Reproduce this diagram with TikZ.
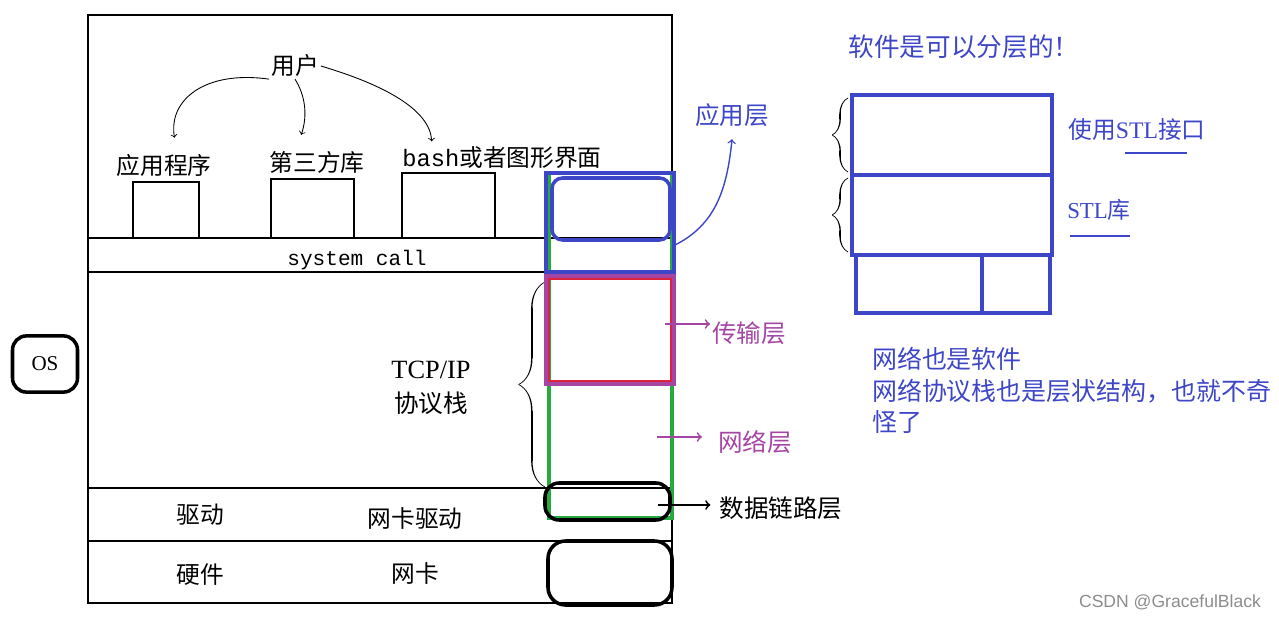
\documentclass[tikz,border=0pt]{standalone}
\usepackage{fontspec}
\setmainfont{Noto Sans CJK SC}
\newfontfamily\latinserif{Liberation Serif}
\newfontfamily\latinmono{Liberation Mono}
\newfontfamily\latinsans{Liberation Sans}
\usetikzlibrary{positioning}
\usetikzlibrary{arrows}
\usetikzlibrary{decorations.pathreplacing,calligraphy}
\definecolor{penblue}{RGB}{62,70,200}
\definecolor{penpurple}{RGB}{165,70,165}
\definecolor{pengreen}{RGB}{40,170,65}
\definecolor{penred}{RGB}{220,35,60}
\tikzset{x=0.02cm, y=-0.02cm, % one unit is one pixel of the sketch, y grows downwards
      every node/.style={inner sep=1pt},
      frame/.style={draw, line width=0.8pt}, % the OS layers
      label/.style={font=\fontsize{13.5}{16}\selectfont},
      layername/.style={font=\fontsize{14}{17}\selectfont},
      note/.style={text=penblue, font=\fontsize{14.2}{18}\selectfont},
      pen/.style={draw, line width=0.5pt, ->, >=to}, % hand drawn arrows
      thickbox/.style={draw, line width=2pt},
      bracepen/.style={draw, decorate, line width=0.8pt,
            decoration={calligraphic brace, amplitude=9pt}}}

\begin{document}
\begin{tikzpicture}
      \useasboundingbox (0,0) rectangle (1279,618);
      % operating system layers
      \draw[frame] (88,15) rectangle (672,603);
      \draw[frame] (88,238) -- (672,238);
      \draw[frame] (88,272) -- (672,272);
      \draw[frame] (88,488) -- (672,488);
      \draw[frame] (88,541) -- (672,541);
      \draw[frame] (133,182) rectangle (199,238);
      \draw[frame] (271,179) rectangle (354,238);
      \draw[frame] (402,173) rectangle (495,238);
      \node[label] (user) at (295,66) {用户};
      \node[label] (appname) at (164,165) {应用程序};
      \node[label] (libname) at (317,162) {第三方库};
      \node[label] (shellname) at (502,158) {{\latinmono bash}或者图形界面};
      \draw[pen] (user.south west) .. controls (205,70) and (168,100) .. ([xshift=6pt,yshift=8pt]appname.north);
      \draw[pen] (user.south) .. controls (305,95) and (308,115) .. ([xshift=-9pt,yshift=8pt]libname.north);
      \draw[pen] (user.east) .. controls (385,85) and (430,110) .. ([xshift=-40pt,yshift=2pt]shellname.north);
      \node[font=\latinmono\fontsize{12}{14}\selectfont] (syscall) at (357,260) {system call};
      \node[align=center, font=\fontsize{14}{19}\selectfont] (tcpip) at (431,388) {{\latinserif\fontsize{15}{19}\selectfont TCP/IP}\\协议栈};
      \draw[bracepen, decoration={amplitude=15pt}] (545,487) -- (545,282);
      \node[label] (driver) at (200,515) {驱动};
      \node[label] (nicdriver) at (415,518) {网卡驱动};
      \node[label] (hardware) at (200,575) {硬件};
      \node[label] (nic) at (415,573) {网卡};
      \node[draw, line width=2pt, rounded corners=8pt, minimum width=37pt, minimum height=32pt,
            font=\latinserif\fontsize{12}{14}\selectfont] (os) at (45,364) {OS};
      % network stack column
      \draw[pengreen, line width=2pt] (549,173) rectangle (672,518);
      \draw[penblue, line width=2.3pt] (546,173) rectangle (674,272);
      \draw[penblue, line width=2pt, rounded corners=6pt] (552,178) rectangle (670,240);
      \draw[penpurple, line width=2.3pt] (546,276) rectangle (674,384);
      \draw[penred, line width=0.8pt] (549,279) rectangle (671,381);
      \draw[thickbox, rounded corners=8pt] (545,483) rectangle (670,520);
      \draw[thickbox, rounded corners=10pt] (548,541) rectangle (672,605);
      \node[layername, text=penblue] (appl) at (732,115) {应用层};
      \node[layername, text=penpurple] (trans) at (749,333) {传输层};
      \node[layername, text=penpurple] (net) at (755,442) {网络层};
      \node[layername] (link) at (781,508) {数据链路层};
      \coordinate (applfrom) at (675,245);
      \coordinate (transfrom) at (665,324);
      \coordinate (netfrom) at (657,437);
      \coordinate (linkfrom) at (658,505);
      \draw[pen, penblue, line width=0.8pt] (applfrom) .. controls (715,225) and (727,190) .. ([yshift=-6pt]appl.south);
      \draw[pen, penpurple, line width=1pt] (transfrom) -- (transfrom -| trans.west);
      \draw[pen, penpurple, line width=1pt, shorten >=8pt] (netfrom) -- (netfrom -| net.west);
      \draw[pen, line width=1pt, shorten >=4pt] (linkfrom) -- (linkfrom -| link.west);
      % software layers
      \node[note, font=\fontsize{14.6}{18}\selectfont] (title) at (964,47) {软件是可以分层的！};
      \draw[thickbox, penblue] (852,95) rectangle (1052,175);
      \draw[thickbox, penblue] (852,175) rectangle (1052,255);
      \draw[thickbox, penblue] (856,255) rectangle (982,313);
      \draw[thickbox, penblue] (982,255) rectangle (1050,313);
      \draw[bracepen, penblue] (848,172) -- (848,98);
      \draw[bracepen, penblue] (848,252) -- (848,178);
      \node[note, font=\fontsize{13.5}{15}\selectfont] (stlapi) at (1137,130) {使用{\latinserif STL}接口};
      \node[note, font=\fontsize{13}{15}\selectfont] (stllib) at (1099,210) {{\latinserif STL}库};
      \draw[penblue, line width=1pt] (1125,153) -- (1187,153);
      \draw[penblue, line width=1pt] (1070,236) -- (1130,236);
      \node[note, anchor=north west, align=left] (remark) at (870,345) {网络也是软件\\网络协议栈也是层状结构，也就不奇\\怪了};
      \node[text=black!45, font=\latinsans\fontsize{10}{12}\selectfont] (mark) at (1170,602) {CSDN @GracefulBlack};
    \end{tikzpicture}
\end{document}
